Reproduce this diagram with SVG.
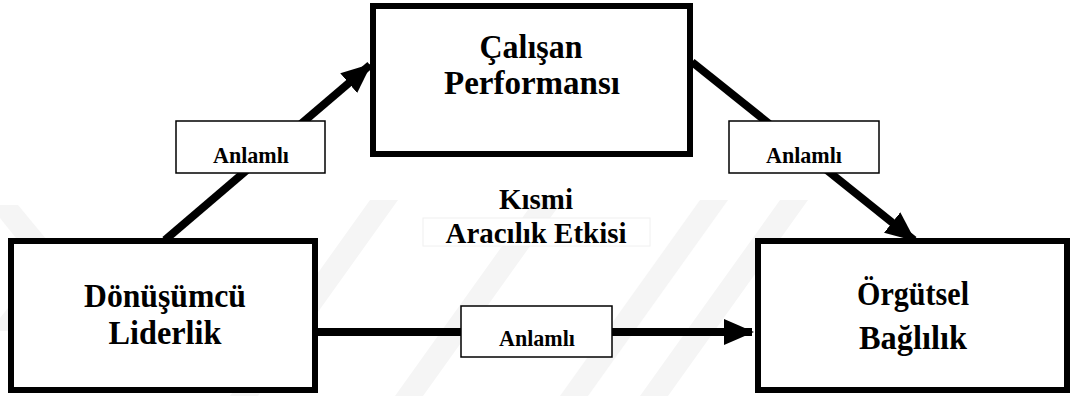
<svg xmlns="http://www.w3.org/2000/svg" width="1074" height="396" viewBox="0 0 1074 396">
  <style>
    .node { fill: #ffffff; stroke: #000000; stroke-width: 6; }
    .tag { fill: #ffffff; stroke: #000000; stroke-width: 1.5; }
    text { font-family: "Liberation Serif", "Times New Roman", serif; font-weight: bold; fill: #000000; text-anchor: middle; }
    .big { font-size: 34px; }
    .mid { font-size: 30px; }
    .small { font-size: 24px; }
    .edge { stroke: #000000; stroke-width: 8; fill: none; }
    .wm { fill: #f5f5f5; }
  </style>
  <defs>
    <marker id="head" markerUnits="userSpaceOnUse" markerWidth="30" markerHeight="28" viewBox="0 0 30 28" refX="28" refY="14" orient="auto">
      <path d="M0,1 L30,14 L0,27 Z" fill="#000000"/>
    </marker>
  </defs>

  <rect width="1074" height="396" fill="#ffffff"/>

  <!-- faint background chevrons -->
  <g id="backdrop">
    <polygon class="wm" points="0,205 18,205 70,268 18,331 0,331 0,318 40,268 0,218"/>
    <polygon class="wm" points="230,396 258,396 398,200 370,200"/>
    <polygon class="wm" points="395,396 423,396 563,200 535,200"/>
    <polygon class="wm" points="560,396 588,396 728,200 700,200"/>
    <polygon class="wm" points="640,396 668,396 808,200 780,200"/>
  </g>

  <!-- connectors -->
  <g id="connectors">
    <line class="edge" x1="165" y1="240" x2="370" y2="65" marker-end="url(#head)"/>
    <line class="edge" x1="692" y1="62" x2="914" y2="240" marker-end="url(#head)"/>
    <line class="edge" x1="315" y1="332" x2="752" y2="332" marker-end="url(#head)"/>
  </g>

  <g id="node-performans">
    <rect class="node" x="373" y="6" width="317" height="148"/>
    <text class="big" x="531" y="58" textLength="103" lengthAdjust="spacingAndGlyphs">Çalışan</text>
    <text class="big" x="532" y="94" textLength="176" lengthAdjust="spacingAndGlyphs">Performansı</text>
  </g>

  <g id="node-liderlik">
    <rect class="node" x="11" y="241" width="304" height="149"/>
    <text class="big" x="165" y="307" textLength="162" lengthAdjust="spacingAndGlyphs">Dönüşümcü</text>
    <text class="big" x="165" y="344" textLength="113" lengthAdjust="spacingAndGlyphs">Liderlik</text>
  </g>

  <g id="node-baglilik">
    <rect class="node" x="758" y="241" width="309" height="149"/>
    <text class="big" x="913" y="305" textLength="112" lengthAdjust="spacingAndGlyphs">Örgütsel</text>
    <text class="big" x="913" y="349" textLength="108" lengthAdjust="spacingAndGlyphs">Bağlılık</text>
  </g>

  <g id="label-left">
    <rect class="tag" x="176" y="121" width="149" height="52"/>
    <text class="small" x="251" y="163" textLength="76" lengthAdjust="spacingAndGlyphs">Anlamlı</text>
  </g>

  <g id="label-right">
    <rect class="tag" x="729" y="121" width="150" height="52"/>
    <text class="small" x="804" y="163" textLength="76" lengthAdjust="spacingAndGlyphs">Anlamlı</text>
  </g>

  <g id="label-bottom">
    <rect class="tag" x="461" y="306" width="151" height="51"/>
    <text class="small" x="537" y="346" textLength="76" lengthAdjust="spacingAndGlyphs">Anlamlı</text>
  </g>

  <g id="label-mediation">
    <rect x="423" y="218" width="227" height="28" fill="#ffffff" stroke="#f0f0f0" stroke-width="1"/>
    <text class="mid" x="536" y="209" textLength="74" lengthAdjust="spacingAndGlyphs">Kısmi</text>
    <text class="mid" x="536" y="243" textLength="181" lengthAdjust="spacingAndGlyphs">Aracılık Etkisi</text>
  </g>
</svg>
